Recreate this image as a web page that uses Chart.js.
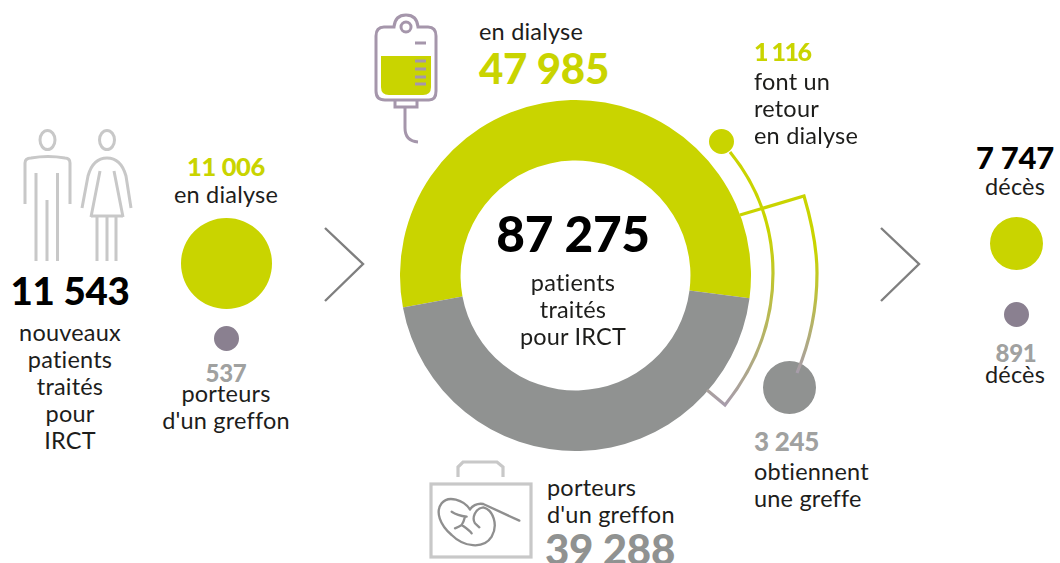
<!DOCTYPE html>
<html lang="fr">
<head>
<meta charset="utf-8">
<title>Patients traités pour IRCT</title>
<script src="https://cdn.jsdelivr.net/npm/chart.js@4"></script>
<style>
  html, body { margin: 0; padding: 0; background: #fff; }
  #page { position: relative; width: 1060px; height: 563px; overflow: hidden; font-family: "Lato", sans-serif; color: #1d1d1b; }
  #page canvas { position: absolute; }
  #page svg { position: absolute; left: 0; top: 0; z-index: 2; }
  .t { position: absolute; font-size: 23.5px; line-height: 27px; white-space: nowrap; letter-spacing: 0.2px; }
  .c { transform: translateX(-50%); text-align: center; }
  .n { font-weight: 900; letter-spacing: -0.3px; }
  .yellow { color: #c9d400; }
  .grey { color: #a0a1a0; }
  .dark { color: #000; }
</style>
</head>
<body>
<div id="page">
  <svg width="1060" height="563" fill="none">
    <defs>
      <linearGradient id="arcA" gradientUnits="userSpaceOnUse" x1="0" y1="230" x2="0" y2="405">
        <stop offset="0" stop-color="#c9d400"/><stop offset="1" stop-color="#a79cab"/>
      </linearGradient>
      <linearGradient id="arcB" gradientUnits="userSpaceOnUse" x1="0" y1="250" x2="0" y2="373">
        <stop offset="0" stop-color="#c9d400"/><stop offset="1" stop-color="#a79cab"/>
      </linearGradient>
    </defs>
    <!-- flux autour de l'anneau -->
    <path d="M730 152 Q773 205 773 273 Q773 345 725 405 L707 390" stroke="url(#arcA)" stroke-width="3.2"/>
    <path d="M740 215 L804 196 Q817 240 817 273 Q817 325 797 373" stroke="url(#arcB)" stroke-width="3.2"/>
    <!-- chevrons -->
    <path d="M325 228 L363 264 L325 301" stroke="#7f7f7f" stroke-width="2.4"/>
    <path d="M881 228 L919 264 L881 301" stroke="#7f7f7f" stroke-width="2.4"/>
    <!-- homme -->
    <g stroke="#c8c8c8" stroke-width="3">
      <ellipse cx="47.5" cy="140" rx="7.5" ry="9.5"/>
      <path d="M25 204 V163 Q25 158 31 158 Q48 155 65 158 Q70 158 70 163 V204"/>
      <path d="M36 173 V261 M47 200 V261 M57.5 173 V261"/>
      <!-- femme -->
      <ellipse cx="107" cy="140" rx="7.5" ry="9.5"/>
      <path d="M82 208 L88 176 Q93 158 107 158 Q121 158 126 176 L131 208"/>
      <path d="M100 171 L91 217 M114 171 L123 217"/>
      <path d="M91 216 H123"/>
      <path d="M97 217 V261 M107 217 V261 M116 217 V261"/>
    </g>
    <!-- poche de dialyse -->
    <path d="M381 56 H431 V87 Q431 95 423 95 H389 Q381 95 381 87 Z" fill="#c9d400"/>
    <g stroke="#a596ab" stroke-width="3">
      <path d="M394 27 H384 Q376 27 376 36 V91 Q376 100 385 100 H429 Q436 100 436 91 V36 Q436 27 428 27 H418 Q417 15 406 15 Q395 15 394 27 Z"/>
      <circle cx="406" cy="27" r="5"/>
      <path d="M395 100 V107 H417 V100"/>
      <path d="M405 107 V128 Q405 141 418 142"/>
      <path d="M415 43 H426 M415 61 H426 M415 69 H426 M415 77 H426 M415 84 H426"/>
    </g>
    <!-- glacière avec rein -->
    <g stroke="#c8c8c8" stroke-width="3.2">
      <rect x="431" y="484" width="100" height="73"/>
      <path d="M458 477 V467 L463 462 H497 L503 467 V477"/>
    </g>
    <g transform="translate(420 450) scale(.3333)" stroke="#8f8f8f" stroke-width="7" stroke-linecap="round">
      <path d="M150 178 C130 150 85 135 65 160 C45 185 60 225 95 255 C130 290 190 300 215 260 C235 225 220 180 190 172 C165 175 155 205 165 220 L178 232"/>
      <path d="M298 212 L190 162 C170 158 155 170 150 178"/>
      <path d="M95 185 C110 195 125 198 140 200 M135 200 C132 212 128 220 125 225 M105 235 C112 232 120 228 125 225 C135 232 148 240 155 250"/>
    </g>
  </svg>

  <canvas id="ringChart" style="left:400px;top:100px;width:351px;height:351px" width="351" height="351"></canvas>
  <canvas id="dotNewDialysis" style="left:181px;top:218px;width:91px;height:91px" width="91" height="91"></canvas>
  <canvas id="dotNewGraft" style="left:214px;top:326px;width:25px;height:25px" width="25" height="25"></canvas>
  <canvas id="dotReturn" style="left:709px;top:129px;width:25px;height:25px" width="25" height="25"></canvas>
  <canvas id="dotObtain" style="left:763px;top:361px;width:53px;height:53px" width="53" height="53"></canvas>
  <canvas id="dotDeathDialysis" style="left:990px;top:217px;width:53px;height:53px" width="53" height="53"></canvas>
  <canvas id="dotDeathGraft" style="left:1004px;top:302px;width:25px;height:25px" width="25" height="25"></canvas>

  <div class="t c n dark" id="lNew" style="left:70px;top:268px;font-size:38.5px;line-height:44px"></div>
  <div class="t c" style="left:70px;top:319px">nouveaux<br>patients<br>traités<br>pour<br>IRCT</div>

  <div class="t c n yellow" id="lNewDialysis" style="left:226px;top:153px;font-size:25.5px"></div>
  <div class="t c" style="left:226px;top:181px">en dialyse</div>
  <div class="t c n grey" id="lNewGraft" style="left:226px;top:359px;font-size:24px"></div>
  <div class="t c" style="left:226px;top:380px">porteurs<br>d'un greffon</div>

  <div class="t" style="left:479px;top:18px">en dialyse</div>
  <div class="t n yellow" id="lDialysis" style="left:479px;top:46px;font-size:42px;line-height:44px"></div>

  <div class="t c n dark" id="lTotal" style="left:573px;top:204px;font-size:49.5px;line-height:58px"></div>
  <div class="t c" style="left:573px;top:269px">patients<br>traités<br>pour IRCT</div>

  <div class="t" style="left:547px;top:474px">porteurs<br>d'un greffon</div>
  <div class="t n grey" id="lGraft" style="left:545px;top:527px;font-size:42px;line-height:44px;color:#909291"></div>

  <div class="t n yellow" id="lReturn" style="left:754px;top:38px;font-size:25px;letter-spacing:-1.5px"></div>
  <div class="t" style="left:754px;top:68px">font un<br>retour<br>en dialyse</div>

  <div class="t n grey" id="lObtain" style="left:754px;top:428px;font-size:26px"></div>
  <div class="t" style="left:754px;top:458px">obtiennent<br>une greffe</div>

  <div class="t c n dark" id="lDeathDialysis" style="left:1015px;top:143px;font-size:31px;line-height:28px"></div>
  <div class="t c" style="left:1015px;top:173px">décès</div>
  <div class="t c n grey" id="lDeathGraft" style="left:1016px;top:339px;font-size:24px"></div>
  <div class="t c" style="left:1015px;top:361px">décès</div>
</div>

<script>
const ringLabels = ["en dialyse", "porteurs d'un greffon"];
const ringValues = [47985, 39288];
const totalTreated = 87275;
const newPatients = 11543;
const newValues = [11006, 537];
const returnDialysis = 1116;
const obtainGraft = 3245;
const deathValues = [7747, 891];

const yellow = "#c9d400";
const ringGrey = "#909291";
const purpleGrey = "#8a8090";

// 11 543 -> espace comme séparateur de milliers
function fmt(n) {
  return String(n).replace(/\B(?=(\d{3})+$)/g, " ");
}

function setText(id, n) {
  document.getElementById(id).textContent = fmt(n);
}

const ringChart = new Chart(document.getElementById("ringChart"), {
  type: "doughnut",
  data: {
    labels: ringLabels,
    datasets: [{
      data: ringValues,
      backgroundColor: [yellow, ringGrey],
      borderWidth: 0,
    }],
  },
  options: {
    responsive: false,
    animation: false,
    rotation: -100.5,
    cutout: "65.5%",
    layout: { padding: 0 },
    plugins: { legend: { display: false }, tooltip: { enabled: false } },
  },
});

// chaque disque est un petit pie à une seule part
function makeDot(id, value, color) {
  return new Chart(document.getElementById(id), {
    type: "pie",
    data: {
      labels: [fmt(value)],
      datasets: [{ data: [value], backgroundColor: [color], borderWidth: 0 }],
    },
    options: {
      responsive: false,
      animation: false,
      plugins: { legend: { display: false }, tooltip: { enabled: false } },
    },
  });
}

makeDot("dotNewDialysis", newValues[0], yellow);
makeDot("dotNewGraft", newValues[1], purpleGrey);
makeDot("dotReturn", returnDialysis, yellow);
makeDot("dotObtain", obtainGraft, ringGrey);
makeDot("dotDeathDialysis", deathValues[0], yellow);
makeDot("dotDeathGraft", deathValues[1], purpleGrey);

setText("lNew", newPatients);
setText("lNewDialysis", newValues[0]);
setText("lNewGraft", newValues[1]);
setText("lDialysis", ringValues[0]);
setText("lGraft", ringValues[1]);
setText("lTotal", totalTreated);
setText("lReturn", returnDialysis);
setText("lObtain", obtainGraft);
setText("lDeathDialysis", deathValues[0]);
setText("lDeathGraft", deathValues[1]);
</script>
</body>
</html>
